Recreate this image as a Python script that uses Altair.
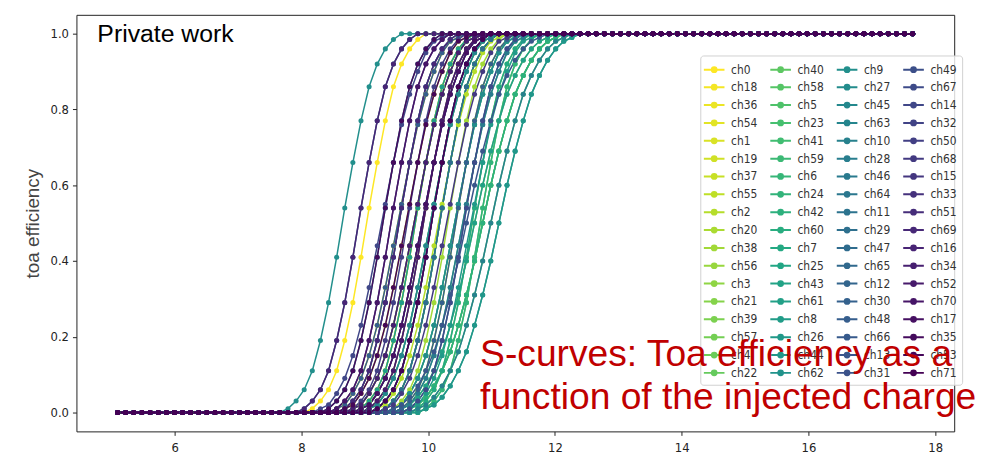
import altair as alt
import pandas as pd

# ---------------- data ----------------
# injected-charge grid (DAC steps)
x_start = 5.1
x_step = 0.128
n_points = 99
charge = [round(x_start + x_step * i, 3) for i in range(n_points)]

# channel names in plotting order (matplotlib legend order, column-major)
channels = [f"ch{k // 4 + 18 * (k % 4)}" for k in range(72)]

# grid index where each channel's S-curve starts to rise
rise_start = [
    24, 29, 31, 27, 33, 30, 28, 35,
    32, 30, 34, 36, 29, 33, 37, 31, 35, 38,
    34, 36, 37, 32, 35, 36, 33, 38, 36, 31,
    37, 34, 38, 35, 30, 36, 38, 33,
    21, 34, 26, 31, 37, 28, 35, 32, 36, 30,
    33, 23, 29, 35, 27, 32, 34, 30, 28, 36,
    25, 31, 29, 33, 27, 30, 32, 28,
    23, 29, 31, 27, 30, 26, 28, 32,
]
# which measured shape each curve follows (0 = steep, 1 = shallow, 2 = medium)
shape_id = [
    0, 2, 0, 2, 0, 0, 2, 0,
    2, 0, 0, 1, 2, 0, 0, 2, 1, 0,
    2, 1, 1, 0, 2, 1, 0, 0, 1, 2,
    0, 2, 1, 1, 0, 2, 1, 0,
    0, 2, 0, 2, 1, 0, 2, 0, 0, 2,
    0, 0, 2, 0, 2, 0, 1, 2, 0, 0,
    2, 0, 0, 2, 0, 2, 0, 0,
    0, 2, 0, 0, 2, 0, 2, 0,
]
steep_shape = [0.01, 0.03, 0.06, 0.11, 0.19, 0.29, 0.41, 0.54, 0.66, 0.77,
               0.86, 0.92, 0.96, 0.985]
shallow_shape = [0.01, 0.02, 0.04, 0.07, 0.11, 0.16, 0.23, 0.31, 0.40, 0.50,
                 0.60, 0.69, 0.77, 0.84, 0.89, 0.93, 0.96, 0.98, 0.99]
medium_shape = [0.01, 0.02, 0.05, 0.09, 0.15, 0.23, 0.33, 0.44, 0.55, 0.66,
                0.76, 0.84, 0.90, 0.95, 0.98, 0.99]
shapes = [steep_shape, shallow_shape, medium_shape]

# viridis anchors (colour style)
viridis = ["#440154", "#482475", "#414487", "#355f8d", "#2a788e", "#21918c",
           "#22a884", "#44bf70", "#7ad151", "#bddf26", "#fde725"]


def viridis_at(t):
    t = min(max(t, 0.0), 1.0) * (len(viridis) - 1)
    i = min(int(t), len(viridis) - 2)
    f = t - i
    a = [int(viridis[i][j:j + 2], 16) for j in (1, 3, 5)]
    b = [int(viridis[i + 1][j:j + 2], 16) for j in (1, 3, 5)]
    c = [round(a[n] + (b[n] - a[n]) * f) for n in range(3)]
    return "#%02x%02x%02x" % tuple(c)


colors = [viridis_at(1 - k / 71) for k in range(72)]

rows = []
for k, ch in enumerate(channels):
    shp = shapes[shape_id[k]]
    s = rise_start[k]
    for i, xv in enumerate(charge):
        if i < s:
            yv = 0.0
        elif i - s < len(shp):
            yv = shp[i - s]
        else:
            yv = 1.0
        rows.append({"charge": xv, "eff": yv, "channel": ch, "k": k})
df = pd.DataFrame(rows)

notes = pd.DataFrame({
    "charge": [4.78],
    "eff": [0.977],
    "label": ["Private work"],
})
red_lines = ["S-curves: Toa efficiency as a", "function of the injected charge"]

# ---------------- chart ----------------
tick_font = "DejaVu Sans Condensed, DejaVu Sans"
sym = "M-1.3,0L1.3,0M-0.3,0A0.3,0.3,0,1,0,0.3,0A0.3,0.3,0,1,0,-0.3,0Z"

x_enc = alt.X(
    "charge:Q",
    scale=alt.Scale(domain=[4.45, 18.3], nice=False, zero=False),
    axis=alt.Axis(values=[6, 8, 10, 12, 14, 16, 18], format="d", title=None,
                  grid=False, tickSize=4, labelPadding=6, labelFont=tick_font,
                  labelFontSize=13, labelColor="#222", domain=False,
                  tickColor="#222"),
)
y_enc = alt.Y(
    "eff:Q",
    scale=alt.Scale(domain=[-0.05, 1.05], nice=False, zero=False),
    axis=alt.Axis(values=[0, 0.2, 0.4, 0.6, 0.8, 1.0], format=".1f",
                  title="toa efficiency", grid=False, tickSize=4,
                  labelPadding=4, labelFont=tick_font, labelFontSize=13,
                  labelColor="#222", domain=False, tickColor="#222",
                  titleFont="Liberation Sans", titleFontSize=19,
                  titleFontWeight="normal", titleColor="#444",
                  titleAngle=270, titleX=-44, titleY=210,
                  titleAlign="center", titleBaseline="middle"),
)

curves = alt.Chart(df).mark_line(
    strokeWidth=1.5,
    point=alt.OverlayMarkDef(filled=True, size=26, opacity=1),
).encode(
    x=x_enc,
    y=y_enc,
    color=alt.Color(
        "channel:N",
        scale=alt.Scale(domain=channels, range=colors),
        legend=alt.Legend(
            title=None, orient="none", legendX=629, legendY=41, columns=4,
            symbolType=sym, symbolSize=256, symbolStrokeWidth=2,
            labelFont=tick_font, labelFontSize=12, labelColor="#333",
            rowPadding=2, columnPadding=8, labelOffset=8, padding=5,
            fillColor="rgba(255,255,255,0.8)", strokeColor="#d0d0d0",
            cornerRadius=3, symbolLimit=100, symbolOpacity=1,
        ),
    ),
    order=alt.Order("k:Q"),
)

private = alt.Chart(notes).mark_text(
    align="left", baseline="alphabetic", font="Liberation Sans",
    fontSize=25, color="#000000",
).encode(x="charge:Q", y="eff:Q", text="label:N")

chart = alt.layer(curves, private).properties(
    width=885, height=420,
    padding={"left": 69, "top": 5, "right": 24, "bottom": 30},
    autosize=alt.AutoSizeParams(type="none"),
    title=alt.TitleParams(
        text=red_lines, orient="top", anchor="start", frame="group",
        offset=0, dx=407, dy=435, baseline="alphabetic",
        font="Liberation Sans", fontSize=37.5, fontWeight="normal",
        color="#c00000", lineHeight=43,
    ),
).configure_view(stroke="#222", strokeWidth=1)

chart.save("out.html", embed_options={"renderer": "svg", "actions": False})
